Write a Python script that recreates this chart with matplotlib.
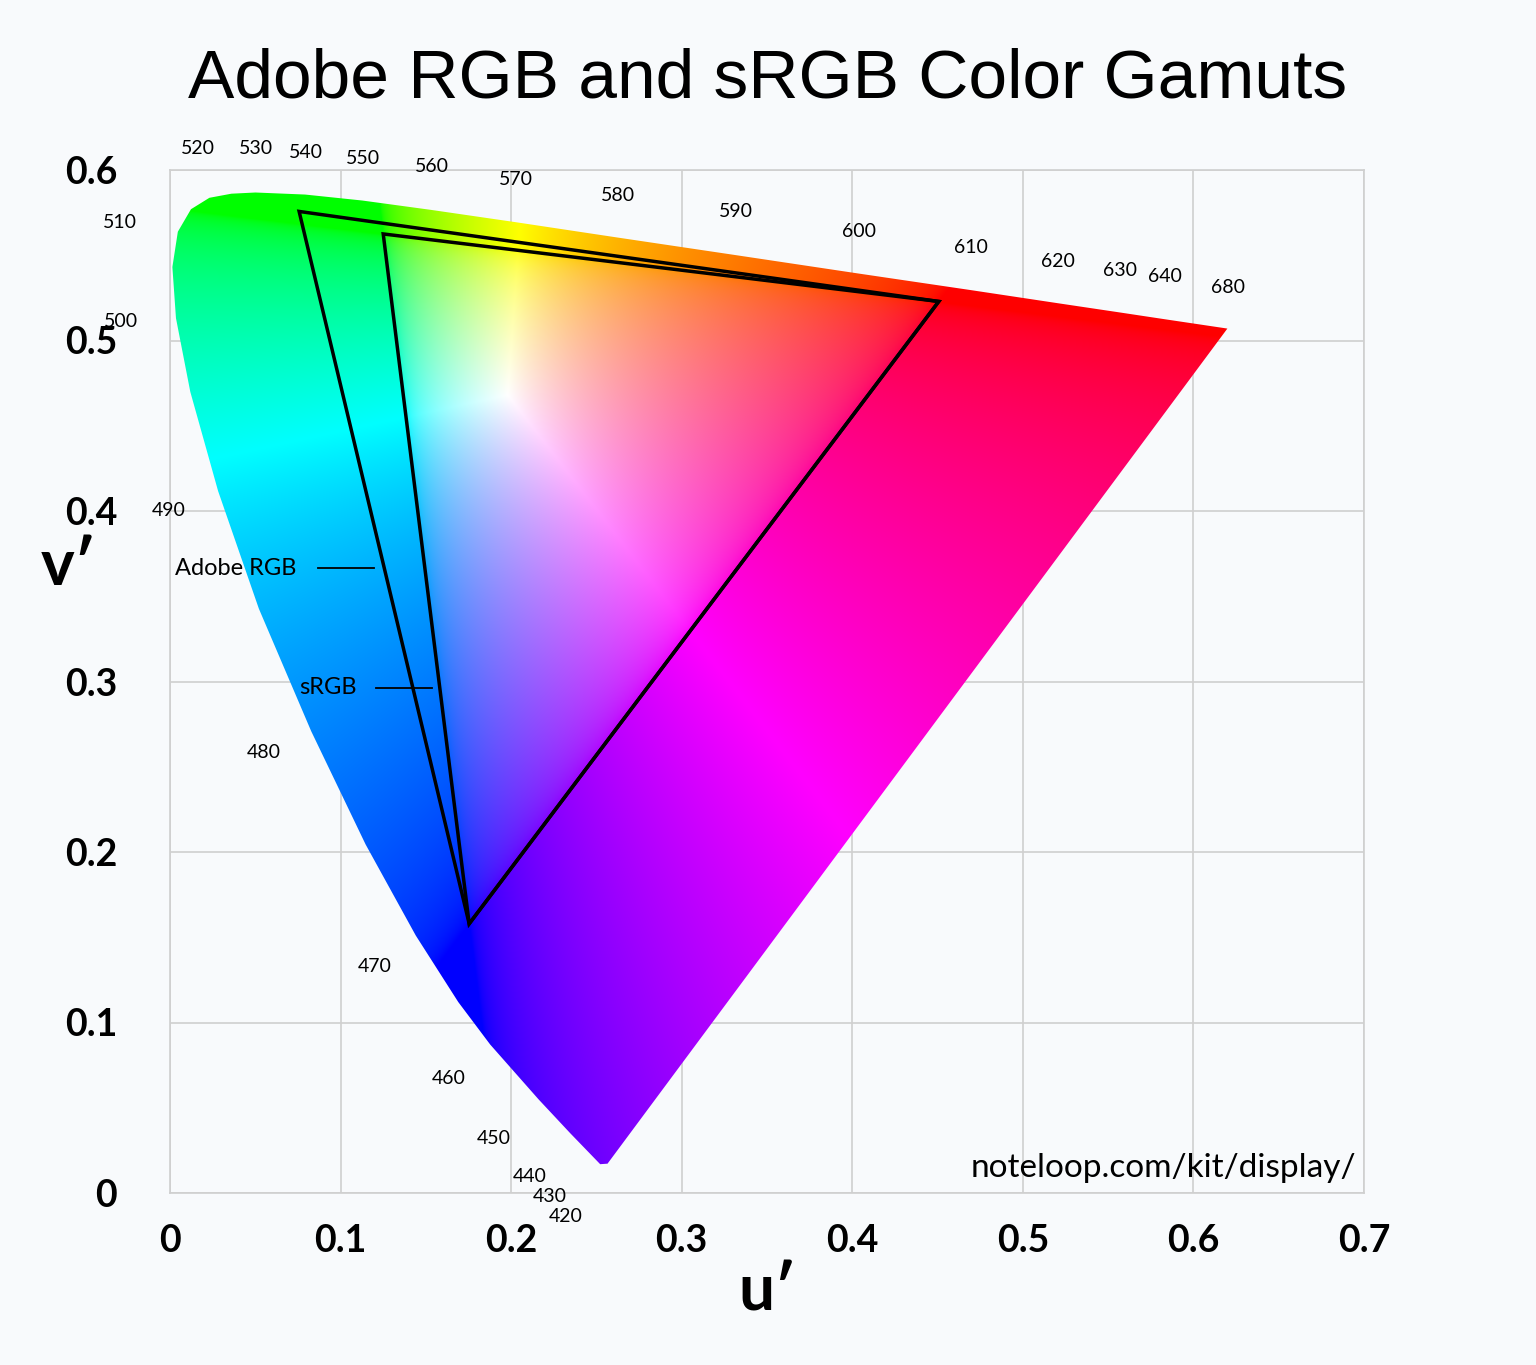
import numpy as np
import matplotlib.pyplot as plt
from matplotlib.patches import Polygon

plt.rcParams["font.family"] = ["Lato", "DejaVu Sans"]

# spectral locus (u', v'), by wavelength (nm)
locus_nm = [410, 420, 440, 450, 460, 465, 470, 475, 480, 485, 490, 495, 500, 505, 510, 515,
            520, 525, 530, 540, 550, 560, 570, 580, 590, 600, 610, 620, 630, 640, 680]
locus_u = [0.2565, 0.2522, 0.2347, 0.2161, 0.1877, 0.1690, 0.1441, 0.1147, 0.0828, 0.0521,
           0.0282, 0.0119, 0.0035, 0.0014, 0.0046, 0.0123, 0.0231, 0.0360, 0.0501, 0.0792,
           0.1127, 0.1531, 0.2026, 0.2623, 0.3315, 0.4035, 0.4692, 0.5203, 0.5565, 0.5830,
           0.6199]
locus_v = [0.0172, 0.0169, 0.0350, 0.0549, 0.0871, 0.1120, 0.1510, 0.2044, 0.2708, 0.3427,
           0.4117, 0.4699, 0.5131, 0.5431, 0.5638, 0.5770, 0.5837, 0.5861, 0.5868, 0.5856,
           0.5821, 0.5766, 0.5694, 0.5604, 0.5501, 0.5393, 0.5296, 0.5219, 0.5165, 0.5125,
           0.5070]

# wavelength labels and where they sit
label_text = ["520", "530", "540", "550", "560", "570", "580", "590", "600", "610", "620",
              "630", "640", "680", "510", "500", "490", "480", "470", "460", "450", "440",
              "430", "420"]
label_u = [0.0164, 0.0504, 0.0797, 0.1131, 0.1536, 0.2028, 0.2626, 0.3318, 0.4039, 0.4695,
           0.5205, 0.5569, 0.5833, 0.6202, -0.0293, -0.0287, -0.0006, 0.0551, 0.1202, 0.1635,
           0.1899, 0.2110, 0.2227, 0.2321]
label_v = [0.6129, 0.6129, 0.6100, 0.6070, 0.6018, 0.5947, 0.5853, 0.5754, 0.5642, 0.5543,
           0.5466, 0.5408, 0.5378, 0.5308, 0.5695, 0.5109, 0.4000, 0.2585, 0.1326, 0.0669,
           0.0317, 0.0094, -0.0023, -0.0135]

# gamut primaries (u', v'): R, G, B
adobe_u = [0.4507, 0.0757, 0.1754]
adobe_v = [0.5229, 0.5757, 0.1579]
srgb_u = [0.4507, 0.1250, 0.1754]
srgb_v = [0.5229, 0.5625, 0.1579]

BG = "#f8fafc"

fig = plt.figure(figsize=(15.36, 13.65), dpi=100, facecolor=BG)
ax = fig.add_axes([170 / 1536, 172 / 1365, 1194 / 1536, 1023 / 1365])
ax.set_facecolor(BG)
ax.set_xlim(0, 0.7)
ax.set_ylim(0, 0.6)

ax.set_xticks(np.arange(0, 0.71, 0.1))
ax.set_yticks(np.arange(0, 0.61, 0.1))
ax.set_xticklabels(["0", "0.1", "0.2", "0.3", "0.4", "0.5", "0.6", "0.7"])
ax.set_yticklabels(["0", "0.1", "0.2", "0.3", "0.4", "0.5", "0.6"])
ax.tick_params(length=0, labelsize=27, pad=38)
for lab in ax.get_xticklabels() + ax.get_yticklabels():
    lab.set_fontweight("bold")
ax.tick_params(axis="x", pad=22)
ax.grid(color="#cfcfcf", linewidth=1.2, zorder=0)
for s in ax.spines.values():
    s.set_color("#cfcfcf")
    s.set_linewidth(1.2)

# colour fill of the locus
n = 900
uu, vv = np.meshgrid(np.linspace(0, 0.7, n), np.linspace(0, 0.6, n))
vv_safe = np.where(vv < 1e-4, 1e-4, vv)
x = 9 * uu / (6 * uu - 16 * vv_safe + 12)
y = 4 * vv_safe / (6 * uu - 16 * vv_safe + 12)
y = np.clip(y, 1e-4, None)
X = x / y
Y = np.ones_like(X)
Z = (1 - x - y) / y
r = 3.2406 * X - 1.5372 * Y - 0.4986 * Z
g = -0.9689 * X + 1.8758 * Y + 0.0415 * Z
b = 0.0557 * X - 0.2040 * Y + 1.0570 * Z
rgb = np.clip(np.stack([r, g, b], -1), 0, None)
rgb = rgb / rgb.max(axis=-1, keepdims=True).clip(1e-6)
rgb = np.where(rgb <= 0.0031308, 12.92 * rgb, 1.055 * rgb ** (1 / 2.4) - 0.055)
rgb = np.clip(rgb, 0, 1)

im = ax.imshow(rgb, origin="lower", extent=(0, 0.7, 0, 0.6), aspect="auto",
               interpolation="bilinear", zorder=2)
poly = Polygon(np.column_stack([locus_u, locus_v]), closed=True, transform=ax.transData)
im.set_clip_path(poly)

ax.add_patch(Polygon(np.column_stack([adobe_u, adobe_v]), closed=True, fill=False,
                     edgecolor="black", linewidth=2.5, zorder=3))
ax.add_patch(Polygon(np.column_stack([srgb_u, srgb_v]), closed=True, fill=False,
                     edgecolor="black", linewidth=2.5, zorder=3))

for t, lu, lv in zip(label_text, label_u, label_v):
    ax.text(lu, lv, t, fontsize=14, ha="center", va="center", zorder=4, clip_on=False)

# gamut callouts
ax.text(0.0383, 0.3665, "Adobe RGB", fontsize=17, ha="center", va="center", zorder=4)
ax.plot([0.0868, 0.1196], [0.3665, 0.3665], color="black", lw=1.3, zorder=4)
ax.text(0.0926, 0.2962, "sRGB", fontsize=17, ha="center", va="center", zorder=4)
ax.plot([0.1208, 0.1536], [0.2962, 0.2962], color="black", lw=1.3, zorder=4)

ax.text(0.6955, 0.0145, "noteloop.com/kit/display/", fontsize=24, ha="right",
        va="center", zorder=4)

ax.set_xlabel("u\u2032", fontsize=46, fontweight="bold", labelpad=4)
ax.set_ylabel("v\u2032", fontsize=46, fontweight="bold", rotation=0, labelpad=40)
ax.yaxis.set_label_coords(-0.085, 0.585)

fig.text(0.5, 0.942, "Adobe RGB and sRGB Color Gamuts", fontsize=50, ha="center",
         va="center", family="Liberation Sans")

fig.savefig("out.png", dpi=100, facecolor=BG)
